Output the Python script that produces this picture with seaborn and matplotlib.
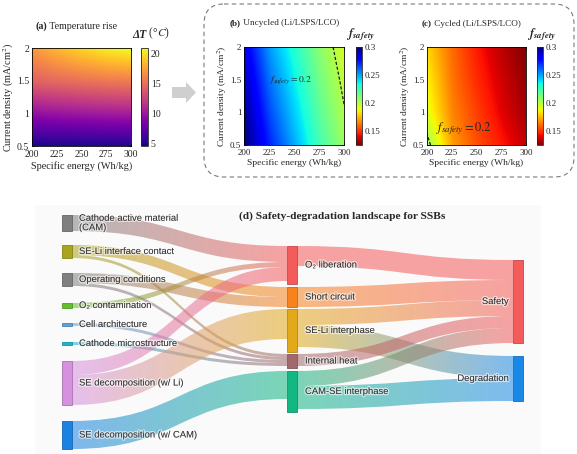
import numpy as np
import matplotlib
matplotlib.use("Agg")
import matplotlib.pyplot as plt
import seaborn as sns
from matplotlib.path import Path
from matplotlib.patches import PathPatch, Rectangle, FancyBboxPatch, Polygon
from matplotlib.colors import to_rgba, Normalize
from matplotlib.cm import ScalarMappable
import matplotlib.patheffects as pe

# ---------------- data: heat maps ----------------
energy = [200, 225, 250, 275, 300]       # Specific energy (Wh/kg)
current = [0.5, 1.0, 1.5, 2.0]           # Current density (mA/cm2)
temp_rise = [                            # rows follow `current`, cols follow `energy`
    [4.5, 4.6, 4.6, 4.7, 4.7],
    [9.4, 9.7, 9.9, 10.1, 10.2],
    [14.2, 14.6, 15.0, 15.3, 15.5],
    [17.0, 18.3, 19.5, 20.4, 21.0],
]
f_uncycled = [
    [0.300, 0.272, 0.248, 0.224, 0.205],
    [0.296, 0.265, 0.242, 0.219, 0.201],
    [0.290, 0.258, 0.236, 0.214, 0.197],
    [0.283, 0.251, 0.230, 0.209, 0.193],
]
f_cycled = [
    [0.205, 0.170, 0.155, 0.145, 0.135],
    [0.190, 0.165, 0.152, 0.140, 0.130],
    [0.185, 0.162, 0.148, 0.137, 0.128],
    [0.180, 0.160, 0.145, 0.134, 0.125],
]
x_ticks = [200, 225, 250, 275, 300]
y_ticks = [0.5, 1, 1.5, 2]
dT_ticks = [5, 10, 15, 20]
f_ticks = [0.15, 0.2, 0.25, 0.3]
f_contour = 0.2

# ---------------- data: sankey ----------------
left_nodes = ["Cathode active material\n(CAM)", "SE-Li interface contact", "Operating conditions",
              "O\u2082 contamination", "Cell architecture", "Cathode microstructure",
              "SE decomposition (w/ Li)", "SE decomposition (w/ CAM)"]
mid_nodes = ["O\u2082 liberation", "Short circuit", "SE-Li interphase", "Internal heat", "CAM-SE interphase"]
right_nodes = ["Safety", "Degradation"]
left_sizes = [16, 13, 13, 5, 3, 3, 44, 28]
mid_sizes = [38, 20, 43, 14, 41]
right_sizes = [83, 45]
lm_source = [0, 1, 1, 2, 2, 3, 4, 5, 6, 6, 7]
lm_target = [0, 1, 3, 1, 3, 0, 3, 3, 0, 2, 4]
lm_value = [16, 10, 3, 10, 3, 5, 3, 3, 14, 30, 28]
mr_source = [0, 1, 2, 2, 3, 4, 4]
mr_target = [0, 0, 0, 1, 0, 0, 1]
mr_value = [20, 20, 16, 22, 12, 15, 23]

# ---------------- styles / layout ----------------
left_colors = ["#7f7f7f", "#a9a51e", "#7f7f7f", "#62bf2c", "#5ea2da", "#1cb5c9", "#d590e0", "#1b82e2"]
mid_colors = ["#f45b5b", "#f7821e", "#e2a91a", "#a2696d", "#13b781"]
right_colors = ["#f45b5b", "#1a88e6"]
col_x = [62, 287, 513]
node_w = 10
left_top = [215, 245, 273, 303, 323, 342, 361, 421]
mid_top = [246, 287, 309, 354, 371]
right_top = [260, 356]

sns.set_theme(style="white")
plt.rcParams['font.family'] = ['Liberation Serif', 'DejaVu Serif']
plt.rcParams['mathtext.fontset'] = 'stix'

W, H = 577, 454
fig = plt.figure(figsize=(W / 100, H / 100), dpi=100)


def box(x0, y0, x1, y1):
    return [x0 / W, 1 - y1 / H, (x1 - x0) / W, (y1 - y0) / H]


bg = fig.add_axes([0, 0, 1, 1])
bg.set_xlim(0, W)
bg.set_ylim(H, 0)
bg.axis('off')
bg.set_autoscale_on(False)

# light panel background for (d)
bg.add_patch(Rectangle((35, 205), 506, 249, facecolor="#fafafa", edgecolor="none", zorder=0))
# dashed rounded box around (b),(c)
bg.add_patch(FancyBboxPatch((204, 4), 370, 173, boxstyle="round,pad=0,rounding_size=20",
                            fill=False, ls=(0, (4, 3)), ec="#7a7a7a", lw=0.8))
# gray arrow
bg.add_patch(Polygon([(172, 87), (186, 87), (186, 82), (196, 92.5), (186, 103), (186, 98), (172, 98)],
                     closed=True, fc="#cfcfcf", ec="none"))

E, J = np.meshgrid(energy, current)


def panel(rect, crect, Z, cmap, vmin, vmax, cticks, ctlabels, tb, tr, tpos, fs):
    tick_fs, lab_fs, title_fs = fs
    ax = fig.add_axes(box(*rect))
    levels = np.linspace(vmin, vmax, 257)
    cs = ax.contourf(E, J, np.clip(np.array(Z), vmin, vmax), levels=levels, cmap=cmap)
    cs.set_edgecolor('face')
    ax.set_xlim(200, 300)
    ax.set_ylim(0.5, 2)
    ax.set_xticks(x_ticks)
    ax.set_yticks(y_ticks)
    ax.set_yticklabels(["0.5", "1", "1.5", "2"])
    ax.tick_params(direction='in', length=2, width=0.5, labelsize=tick_fs,
                   top=True, right=True, bottom=True, left=True)
    ax.tick_params(axis='x', pad=3)
    ax.tick_params(axis='y', pad=2)
    for s in ax.spines.values():
        s.set_linewidth(0.6)
        s.set_color('black')
    ax.set_xlabel("Specific energy (Wh/kg)", fontsize=lab_fs, labelpad=1)
    ax.set_ylabel("Current density (mA/cm$^2$)", fontsize=lab_fs, labelpad=1)
    cax = fig.add_axes(box(*crect))
    sm = ScalarMappable(norm=Normalize(vmin, vmax), cmap=cmap)
    cb = fig.colorbar(sm, cax=cax)
    cb.set_ticks(cticks)
    cb.set_ticklabels(ctlabels)
    cb.ax.tick_params(direction='in', length=2, width=0.5, labelsize=tick_fs, pad=2)
    cb.outline.set_linewidth(0.6)
    t1 = bg.text(tpos[0], tpos[1], tb, weight='bold', fontsize=title_fs, ha='left', va='center')
    bg.annotate(tr, xy=(1, 0), xycoords=t1, ha='left', va='bottom', fontsize=title_fs)
    return ax


fs_a = (7.0, 7.4, 7.2)
fs_bc = (6.5, 6.8, 6.6)

axa = panel((32, 48, 131, 146), (141, 48, 148, 146), temp_rise, 'plasma', 4.5, 21,
            dT_ticks, [str(t) for t in dT_ticks], "(a)", " Temperature rise", (35, 26), fs_a)
ta = bg.text(132, 35, "\u0394T", weight='bold', style='italic', fontsize=8.3, ha='left', va='center')
bg.annotate(" (\u00b0$C$)", xy=(1, 0), xycoords=ta, ha='left', va='bottom', fontsize=8.3)

axb = panel((244, 47, 344, 145), (356, 47, 362, 145), f_uncycled, 'jet_r', 0.125, 0.3,
            f_ticks, ["0.15", "0.2", "0.25", "0.3"], "(b)", " Uncycled (Li/LSPS/LCO)", (230, 23), fs_bc)
axc = panel((427, 47, 526, 145), (537, 47, 543, 145), f_cycled, 'jet_r', 0.125, 0.3,
            f_ticks, ["0.15", "0.2", "0.25", "0.3"], "(c)", " Cycled (Li/LSPS/LCO)", (422, 24), fs_bc)

for ax, Z in ((axb, f_uncycled), (axc, f_cycled)):
    ax.contour(E, J, np.array(Z), levels=[f_contour], colors='k', linestyles=[(0, (2.5, 1.5))],
               linewidths=0.9)

bg.text(360, 35, r"$\mathbfit{f}_{\mathbfit{safety}}$", fontsize=9, ha='center', va='center')
bg.text(541, 35, r"$\mathbfit{f}_{\mathbfit{safety}}$", fontsize=9, ha='center', va='center')
axb.text(246, 1.5, r"$f_{safety}=0.2$", fontsize=6.8, ha='center', va='center')
axc.text(237, 0.75, r"$f_{safety}=0.2$", fontsize=9, ha='center', va='center')

# ---------------- sankey (d) ----------------
bg.text(342, 216, "(d) Safety-degradation landscape for SSBs", weight='bold', fontsize=8.2,
        ha='center', va='center')

alpha_link = 0.55


def draw_link(xs, ys0, ys1, xt, yt0, yt1, c0, c1):
    xm = (xs + xt) / 2
    verts = [(xs, ys0), (xm, ys0), (xm, yt0), (xt, yt0), (xt, yt1), (xm, yt1), (xm, ys1), (xs, ys1), (xs, ys0)]
    codes = [Path.MOVETO, Path.CURVE4, Path.CURVE4, Path.CURVE4, Path.LINETO,
             Path.CURVE4, Path.CURVE4, Path.CURVE4, Path.CLOSEPOLY]
    patch = PathPatch(Path(verts, codes), facecolor='none', edgecolor='none', transform=bg.transData)
    bg.add_patch(patch)
    r0, r1 = np.array(to_rgba(c0)), np.array(to_rgba(c1))
    t = np.linspace(0, 1, 128)[:, None]
    grad = (r0 * (1 - t) + r1 * t)
    grad[:, 3] = alpha_link
    ymin, ymax = min(ys0, yt0), max(ys1, yt1)
    im = bg.imshow(grad[None, :, :], extent=[xs, xt, ymax, ymin], aspect='auto',
                   interpolation='bilinear', zorder=1)
    im.set_clip_path(patch)


def draw_stage(src_tops, tgt_tops, src_cols, tgt_cols, x_src, x_tgt, sources, targets, values):
    n = len(sources)
    order_src = sorted(range(n), key=lambda k: (sources[k], targets[k]))
    order_tgt = sorted(range(n), key=lambda k: (targets[k], sources[k]))
    s_off = {}
    cur = {}
    for k in order_src:
        s = sources[k]
        y = cur.get(s, src_tops[s])
        s_off[k] = y
        cur[s] = y + values[k]
    t_off = {}
    cur = {}
    for k in order_tgt:
        tg = targets[k]
        y = cur.get(tg, tgt_tops[tg])
        t_off[k] = y
        cur[tg] = y + values[k]
    for k in range(n):
        draw_link(x_src + node_w, s_off[k], s_off[k] + values[k], x_tgt,
                  t_off[k], t_off[k] + values[k], src_cols[sources[k]], tgt_cols[targets[k]])


draw_stage(left_top, mid_top, left_colors, mid_colors, col_x[0], col_x[1], lm_source, lm_target, lm_value)
draw_stage(mid_top, right_top, mid_colors, right_colors, col_x[1], col_x[2], mr_source, mr_target, mr_value)

halo = [pe.withStroke(linewidth=1.8, foreground=(1, 1, 1, 0.6))]
lab_kw = dict(fontsize=6.8, color="#333333", family=['Liberation Sans', 'DejaVu Sans'], va='center',
              path_effects=halo, zorder=5)


def draw_nodes(tops, sizes, cols, x):
    for y, s, c in zip(tops, sizes, cols):
        rc = np.array(to_rgba(c))
        ec = tuple(rc[:3] * 0.8) + (1,)
        bg.add_patch(Rectangle((x, y), node_w, s, facecolor=c, edgecolor=ec, lw=0.6, zorder=3))


draw_nodes(left_top, left_sizes, left_colors, col_x[0])
draw_nodes(mid_top, mid_sizes, mid_colors, col_x[1])
draw_nodes(right_top, right_sizes, right_colors, col_x[2])

for name, y, s in zip(left_nodes, left_top, left_sizes):
    bg.text(col_x[0] + node_w + 7, y + s / 2, name, ha='left', linespacing=1.05, **lab_kw)
for name, y, s in zip(mid_nodes, mid_top, mid_sizes):
    bg.text(col_x[1] + node_w + 8, y + s / 2, name, ha='left', **lab_kw)
for name, y, s in zip(right_nodes, right_top, right_sizes):
    bg.text(col_x[2] - 4, y + s / 2, name, ha='right', **lab_kw)

bg.set_xlim(0, W)
bg.set_ylim(H, 0)
fig.savefig("out.png", dpi=100)
